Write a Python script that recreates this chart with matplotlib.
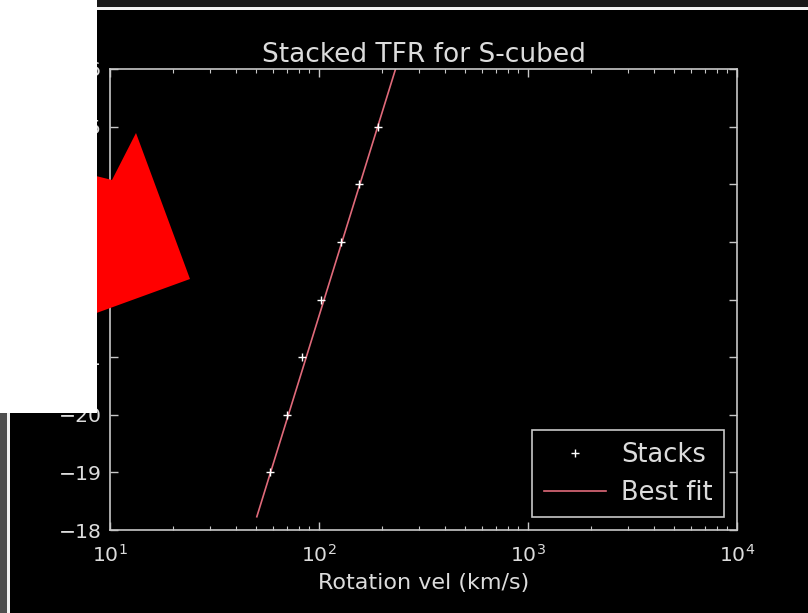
import matplotlib
matplotlib.use("Agg")
import matplotlib.pyplot as plt
from matplotlib.patches import Rectangle, Polygon

# ---- data ----
stack_vel = [58.3, 70.3, 82.9, 102, 127, 155, 191]
stack_mag = [-19, -20, -21, -22, -23, -24, -25]
fit_vel = [50.4, 250]
fit_mag = [-18.23, -26.37]
y_ticks = [-18, -19, -20, -21, -22, -23, -24, -25, -26]

W, H = 808, 613
fig = plt.figure(figsize=(W / 100, H / 100), dpi=100, facecolor="black")

left, right, top, bottom = 110, 737, 69, 530
ax = fig.add_axes([left / W, 1 - bottom / H, (right - left) / W, (bottom - top) / H])
ax.set_facecolor("black")

fg = "#dcdcdc"
spine_c = "#c8c8c8"

ax.plot(stack_vel, stack_mag, linestyle="none", marker="+", color="white",
        markersize=6, markeredgewidth=1, label="Stacks", zorder=3)
ax.plot(fit_vel, fit_mag, color="#e06a7a", lw=1.2, label="Best fit", zorder=2)

ax.set_xscale("log")
ax.set_xlim(10, 1e4)
ax.set_ylim(-18, -26)
ax.set_yticks(y_ticks)

for s in ax.spines.values():
    s.set_color(spine_c)
    s.set_linewidth(1.2)

ax.tick_params(which="both", direction="in", top=True, right=True,
               colors=spine_c, labelcolor=fg, labelsize=14.7)
ax.tick_params(which="major", length=6, width=1, pad=6)
ax.tick_params(which="minor", length=3, width=0.8)
ax.tick_params(axis="x", which="major", pad=10)

ax.set_title("Stacked TFR for S-cubed", color=fg, fontsize=19, pad=5)
ax.set_xlabel("Rotation vel (km/s)", color=fg, fontsize=16, labelpad=5.5)

leg = ax.legend(loc="lower right", numpoints=1, fontsize=18.5, fancybox=False,
                framealpha=1, facecolor="black", edgecolor=spine_c,
                handlelength=2.4, handletextpad=0.6, borderpad=0.45,
                labelspacing=0.45, borderaxespad=0.5)
for t in leg.get_texts():
    t.set_color(fg)
leg.get_frame().set_linewidth(1.2)


# ---- screenshot decorations (pixel coords, origin top-left) ----
def px(x, y):
    return (x / W, 1 - y / H)


def rect(x0, y0, x1, y1, color, z):
    fig.add_artist(Rectangle(px(x0, y1), (x1 - x0) / W, (y1 - y0) / H,
                             transform=fig.transFigure, facecolor=color,
                             edgecolor="none", zorder=z))


rect(0, 0, W, 7, "#171717", 10)
rect(0, 7, W, 9.5, "#f2f2f2", 11)
rect(0, 0, 7, H, "#4e4e4e", 10)
rect(7, 0, 9.5, H, "#f2f2f2", 11)

arrow_pts = [(80, 172), (112, 180), (136, 133), (190, 279), (80, 319)]
fig.add_artist(Polygon([px(x, y) for x, y in arrow_pts], closed=True,
                       transform=fig.transFigure, facecolor="#ff0000",
                       edgecolor="none", zorder=12))

rect(0, 0, 97, 413, "white", 13)

fig.savefig("out.png", dpi=100, facecolor="black")
